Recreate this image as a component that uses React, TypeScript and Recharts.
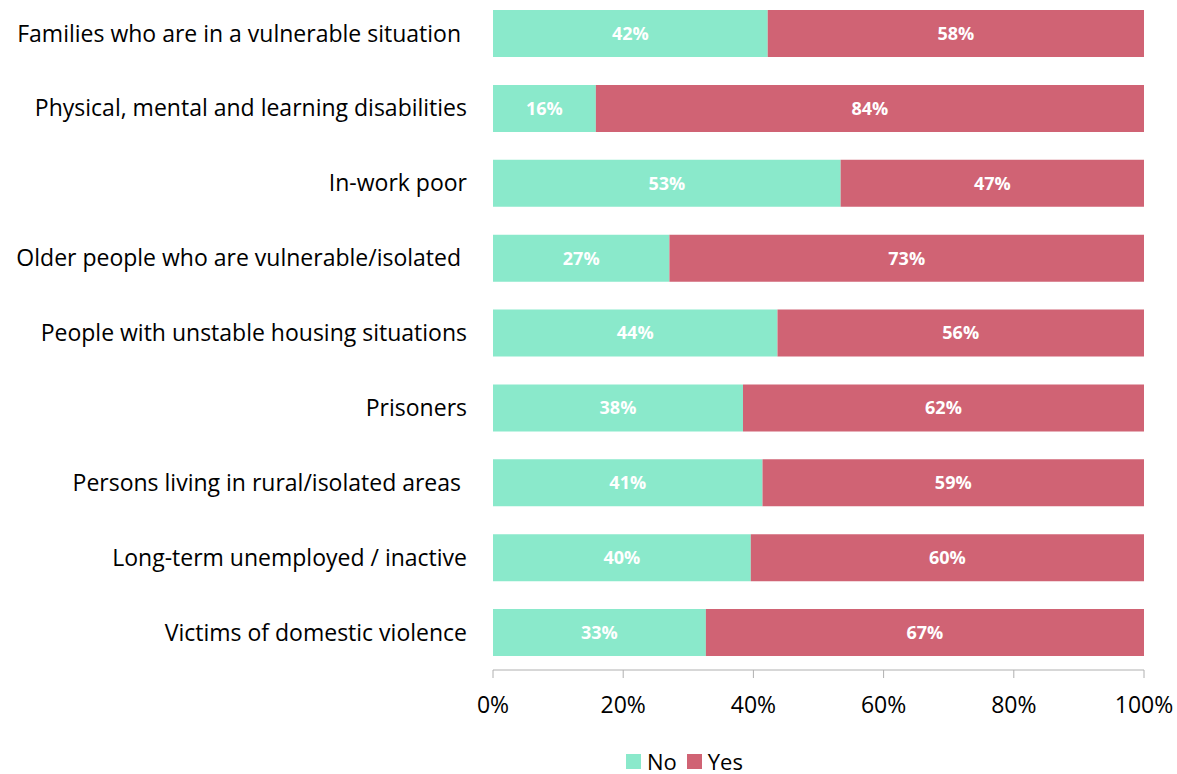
import { BarChart, Bar, XAxis, YAxis, LabelList } from "recharts";

const categories = [
  "Families who are in a vulnerable situation\u00a0",
  "Physical, mental and learning disabilities",
  "In-work poor",
  "Older people who are vulnerable/isolated\u00a0",
  "People with unstable housing situations",
  "Prisoners",
  "Persons living in rural/isolated areas\u00a0",
  "Long-term unemployed / inactive",
  "Victims of domestic violence",
];

const noValues = [42.2, 15.8, 53.4, 27.1, 43.7, 38.4, 41.4, 39.6, 32.7];
const yesValues = [57.8, 84.2, 46.6, 72.9, 56.3, 61.6, 58.6, 60.4, 67.3];

const xTicks = [0, 20, 40, 60, 80, 100];

const GREEN = "#8AE9CB";
const RED = "#D06374";
const FONT = "'Open Sans', sans-serif";

const data = categories.map((name, i) => ({ name, no: noValues[i], yes: yesValues[i] }));

const pct = (v: number) => `${Math.round(v)}%`;

const App = () => {
  return (
    <div style={{ position: "absolute", left: 0, top: -4, width: 1177, height: 778, fontFamily: FONT }}>
      <BarChart
        width={1177}
        height={739}
        data={data}
        layout="vertical"
        margin={{ top: 0, right: 33, bottom: 0, left: 0 }}
      >
        <XAxis
          type="number"
          domain={[0, 100]}
          ticks={xTicks}
          tickFormatter={(v: number) => `${v}%`}
          axisLine={{ stroke: "#b0b0b0" }}
          tickLine={{ stroke: "#b0b0b0" }}
          tickSize={8}
          tickMargin={19}
          height={65}
          tick={{ fill: "#000", fontSize: 23, fontFamily: FONT }}
          interval={0}
        />
        <YAxis
          type="category"
          dataKey="name"
          width={493}
          axisLine={false}
          tickLine={false}
          tickSize={0}
          tickMargin={26}
          interval={0}
          tick={{ fill: "#000", fontSize: 23, fontFamily: FONT }}
        />
        <Bar dataKey="no" stackId="a" fill={GREEN} barSize={47} isAnimationActive={false}>
          <LabelList
            dataKey="no"
            position="center"
            formatter={(v: number) => pct(v)}
            style={{ fill: "#fff", fontSize: 18, fontWeight: 700, fontFamily: FONT }}
          />
        </Bar>
        <Bar dataKey="yes" stackId="a" fill={RED} barSize={47} isAnimationActive={false}>
          <LabelList
            dataKey="yes"
            position="center"
            formatter={(v: number) => pct(v)}
            style={{ fill: "#fff", fontSize: 18, fontWeight: 700, fontFamily: FONT }}
          />
        </Bar>
      </BarChart>
      <div
        style={{
          position: "absolute",
          left: 626,
          top: 752,
          display: "flex",
          alignItems: "center",
          fontSize: 22,
          color: "#000",
          lineHeight: "26px",
        }}
      >
        <span style={{ width: 15, height: 15, background: GREEN, display: "inline-block", marginRight: 6 }} />
        <span style={{ marginRight: 10 }}>No</span>
        <span style={{ width: 15, height: 15, background: RED, display: "inline-block", marginRight: 6 }} />
        <span>Yes</span>
      </div>
    </div>
  );
};

export default App;
